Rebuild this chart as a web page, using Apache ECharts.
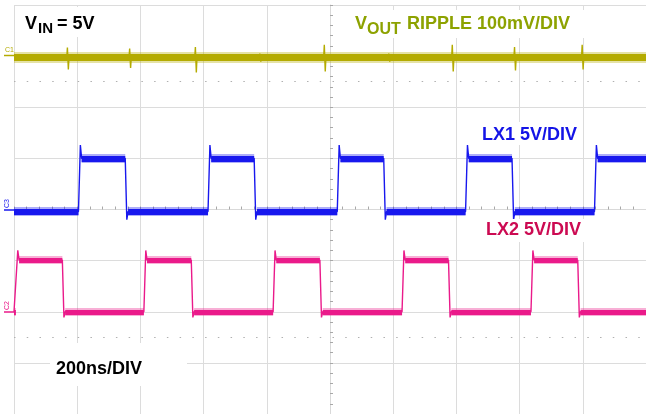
<!DOCTYPE html>
<html><head><meta charset="utf-8">
<script src="https://cdn.jsdelivr.net/npm/echarts@6/dist/echarts.min.js"></script>
<style>html,body{margin:0;padding:0;background:#fff}#chart{width:646px;height:414px}</style>
</head><body><div id="chart"></div>
<script>
// ---- time base: 200 ns/div, 10 divisions, trigger at centre ----
const timeAxisNs = [-1000, 1000];
const timePerDivNs = 200;
const screenDivisions = [-4, 4];

// ---- C1: VOUT ripple, 100 mV/div, centred at +2.97 div ----
const voutOffsetDiv = 2.97;
const voutMvPerDiv = 100;
const voutSpikeNs     = [-830, -633, -425, -221, -17, 187, 388, 585, 799];
const voutSpikeUpMv   = [20, 18, 21, 8, 25, 8, 25, 21, 25];
const voutSpikeDownMv = [-23, -20, -29, -8, -27, -8, -27, -25, -23];

// ---- C3: LX1, 5 V/div, ground at 0 div ----
const lx1OffsetDiv = 0;
const lx1VoltPerDiv = 5;
const lx1RiseNs = [-793, -383, 26, 432, 840];
const lx1FallNs = [-646, -238, 172, 578];
const lx1LowHighV = [-0.2, 5.0];
const lx1RingV = [6.3, -1.0];   // overshoot at rise, undershoot at fall

// ---- C2: LX2, 5 V/div, ground at -2 div ----
const lx2OffsetDiv = -2;
const lx2VoltPerDiv = 5;
const lx2RiseNs = [-991, -586, -177, 231, 639];
const lx2FallNs = [-845, -437, -30, 377, 786];
const lx2LowHighV = [0.0, 5.05];
const lx2RingV = [6.0, -0.55];

const colVout = '#b4ab00', colLx1 = '#1818ee', colLx2 = '#ea1a8a';

function switchTrace(rises, falls, lowHigh, ring, offset, vpd) {
  const d = v => offset + v / vpd;
  const [low, high] = lowHigh, [over, under] = ring;
  const edges = rises.map(t => ({t, up: true})).concat(falls.map(t => ({t, up: false}))).sort((a, b) => a.t - b.t);
  let level = edges[0].up ? low : high;
  const line = [[timeAxisNs[0], d(level)]];
  const segs = [];
  let segStart = timeAxisNs[0];
  edges.forEach(e => {
    if (e.up) {
      segs.push([[segStart, d(low)], [e.t - 3, d(low)]]);
      line.push([e.t - 3, d(low)], [e.t + 3, d(over)], [e.t + 7, d(high)]);
      segStart = e.t + 7; level = high;
    } else {
      segs.push([[segStart, d(high)], [e.t - 2, d(high)]]);
      line.push([e.t - 2, d(high)], [e.t + 3, d(under)], [e.t + 7, d(low)]);
      segStart = e.t + 7; level = low;
    }
  });
  line.push([timeAxisNs[1], d(level)]);
  segs.push([[segStart, d(level)], [timeAxisNs[1], d(level)]]);
  return {line, segs};
}

function voutTrace() {
  const d = mv => voutOffsetDiv + mv / voutMvPerDiv;
  const line = [[timeAxisNs[0], d(0)]];
  voutSpikeNs.forEach((t, i) => {
    line.push([t - 3, d(0)], [t - 1, d(voutSpikeUpMv[i])], [t + 2, d(voutSpikeDownMv[i])], [t + 4, d(0)]);
  });
  line.push([timeAxisNs[1], d(0)]);
  return {line, segs: [[[timeAxisNs[0], d(0)], [timeAxisNs[1], d(0)]]]};
}

const lx1 = switchTrace(lx1RiseNs, lx1FallNs, lx1LowHighV, lx1RingV, lx1OffsetDiv, lx1VoltPerDiv);
const lx2 = switchTrace(lx2RiseNs, lx2FallNs, lx2LowHighV, lx2RingV, lx2OffsetDiv, lx2VoltPerDiv);
const vout = voutTrace();

function traceSeries(tr, color, bandW, haloW) {
  return [
    {type: 'lines', coordinateSystem: 'cartesian2d', polyline: false, silent: true,
     lineStyle: {color, width: haloW, opacity: 0.35, cap: 'butt'}, data: tr.segs.map(c => ({coords: c}))},
    {type: 'lines', coordinateSystem: 'cartesian2d', polyline: false, silent: true,
     lineStyle: {color, width: bandW, opacity: 1, cap: 'butt'}, data: tr.segs.map(c => ({coords: c}))},
    {type: 'line', data: tr.line, showSymbol: false, symbol: 'none', silent: true,
     lineStyle: {color, width: 1.4}}
  ];
}

const tickStyle = {color: '#a8a8a8', width: 1};
const chart = echarts.init(document.getElementById('chart'));
const ff = '"Liberation Sans", Arial, sans-serif';
function txt(x, y, text, color, size) {
  return {type: 'text', x, y, z: 101, silent: true,
    style: {text, fill: color, fontSize: size, fontWeight: 'bold', fontFamily: ff, verticalAlign: 'top', align: 'left'}};
}
function box(x, y, w, h) {
  return {type: 'rect', z: 100, silent: true, shape: {x, y, width: w, height: h}, style: {fill: '#ffffff'}};
}
const dotted = [
  {yAxis: 2.5}, {yAxis: -2.5}
];

chart.setOption({
  animation: false,
  backgroundColor: '#ffffff',
  grid: {left: 14, top: 5, width: 637, height: 410, show: false},
  xAxis: {type: 'value', min: timeAxisNs[0], max: timeAxisNs[1], interval: timePerDivNs,
    axisLabel: {show: false},
    axisLine: {show: true, onZero: true, lineStyle: {color: '#d9d9d9'}},
    axisTick: {show: true, inside: true, length: 3, lineStyle: tickStyle},
    minorTick: {show: true, splitNumber: 5, length: 3, lineStyle: tickStyle},
    splitLine: {show: true, lineStyle: {color: '#dcdcdc', width: 1}}},
  yAxis: {type: 'value', min: screenDivisions[0], max: screenDivisions[1], interval: 1,
    axisLabel: {show: false},
    axisLine: {show: true, onZero: true, lineStyle: {color: '#d9d9d9'}},
    axisTick: {show: true, inside: true, length: 3, lineStyle: tickStyle},
    minorTick: {show: true, splitNumber: 5, length: 3, lineStyle: tickStyle},
    splitLine: {show: true, lineStyle: {color: '#dcdcdc', width: 1}}},
  series: [
    {type: 'line', data: [], markLine: {silent: true, symbol: 'none', label: {show: false},
      lineStyle: {type: [1.5, 11.24], color: '#b0b0b0', width: 1}, data: dotted}},
    ...traceSeries(lx2, colLx2, 5, 8),
    ...traceSeries(lx1, colLx1, 6, 9),
    ...traceSeries(vout, colVout, 7, 11)
  ],
  graphic: [
    box(20, 7, 86, 30),
    txt(25, 15, 'V', '#000', 18), txt(38, 21.5, 'IN', '#000', 15), txt(57, 15, '= 5V', '#000', 18),
    box(346, 10, 244, 28),
    txt(355, 15, 'V', '#8da200', 18), txt(367, 21.5, 'OUT', '#8da200', 16), txt(407, 15, 'RIPPLE 100mV/DIV', '#8da200', 18),
    box(477, 122, 106, 23),
    txt(482, 126, 'LX1 5V/DIV', '#1414e6', 18),
    box(480, 219, 110, 23),
    txt(486, 221, 'LX2 5V/DIV', '#cc0a52', 18),
    box(50, 343, 137, 43),
    txt(56, 360, '200ns/DIV', '#000', 18),
    // channel markers
    {type: 'text', x: 5, y: 47, z: 101, silent: true, style: {text: 'C1', fill: colVout, fontSize: 7, fontFamily: ff, verticalAlign: 'top'}},
    {type: 'line', z: 101, silent: true, shape: {x1: 4, y1: 55.5, x2: 14, y2: 55.5}, style: {stroke: colVout, lineWidth: 1.5}},
    {type: 'text', x: 4, y: 208, rotation: Math.PI / 2, z: 101, silent: true, style: {text: 'C3', fill: colLx1, fontSize: 7, fontFamily: ff, verticalAlign: 'top'}},
    {type: 'line', z: 101, silent: true, shape: {x1: 4, y1: 210, x2: 14, y2: 210}, style: {stroke: colLx1, lineWidth: 1.5}},
    {type: 'text', x: 4, y: 310, rotation: Math.PI / 2, z: 101, silent: true, style: {text: 'C2', fill: colLx2, fontSize: 7, fontFamily: ff, verticalAlign: 'top'}},
    {type: 'line', z: 101, silent: true, shape: {x1: 4, y1: 312, x2: 14, y2: 312}, style: {stroke: colLx2, lineWidth: 1.5}}
  ]
});
</script></body></html>
